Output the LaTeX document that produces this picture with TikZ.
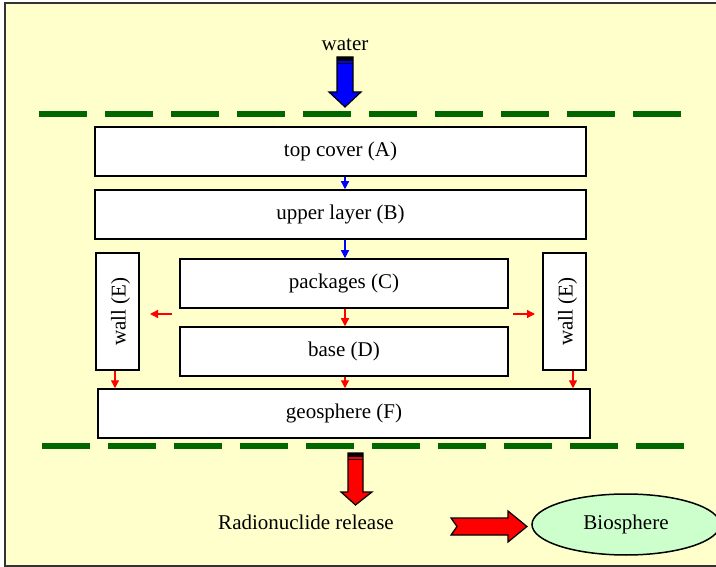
\documentclass[tikz,border=0pt]{standalone}
\usepackage{fontspec}
\setmainfont{Liberation Serif}
\usetikzlibrary{arrows.meta,shapes.geometric,calc}
\definecolor{bgyellow}{HTML}{FFFFCC}
\definecolor{dkgreen}{HTML}{006600}
\definecolor{biogreen}{HTML}{CCFFCC}
\tikzset{
  box/.style={draw=black, line width=1.5pt, fill=white, inner sep=0pt, font=\fontsize{21}{24}\selectfont},
  sepline/.style={dkgreen, line width=6pt, dash pattern=on 48pt off 18pt},
  smallblue/.style={blue, line width=1.3pt, -{Triangle[length=8pt,width=8pt]}},
  smallred/.style={red, line width=1.3pt, -{Triangle[length=8pt,width=8pt]}},
  blockarrow/.style={draw=black, line width=1.2pt, line join=miter},
  lbl/.style={font=\fontsize{21}{24}\selectfont, inner sep=0pt}
}
\begin{document}
\begin{tikzpicture}[x=1pt,y=-1pt]
\useasboundingbox (0,0) rectangle (716,567);
% background frame
\fill[bgyellow] (5,3) rectangle (730,566);
\draw[black!80, line width=2pt] (730,3) -- (5,3) -- (5,566) -- (730,566);
% dashed separator lines
\draw[sepline] (39,114) -- (690,114);
\draw[sepline] (42,446) -- (690,446);
% water
\node[lbl] (water) at (345,45) {water};
\filldraw[blue, blockarrow] (337,57) -- (353,57) -- (353,92) -- (361,92) -- (345,107) -- (329,92) -- (337,92) -- cycle;
\fill[black] (337,57) rectangle (353,61);
\draw[black, line width=1.2pt] (337,63.5) -- (353,63.5);
% boxes
\node[box, minimum width=491pt, minimum height=49pt] (A) at (340.5,151.5) {top cover (A)};
\node[box, minimum width=491pt, minimum height=49pt] (B) at (340.5,214.5) {upper layer (B)};
\node[box, minimum width=328pt, minimum height=49pt] (C) at (344,283.5) {packages (C)};
\node[box, minimum width=328pt, minimum height=49pt] (D) at (344,351.5) {base (D)};
\node[box, minimum width=43pt, minimum height=117pt] (WL) at (117.5,311.5) {};
\node[lbl, rotate=90] (WLt) at ([xshift=3pt]WL.center) {wall (E)};
\node[box, minimum width=43pt, minimum height=117pt] (WR) at (564.5,311.5) {};
\node[lbl, rotate=90] (WRt) at ([xshift=3pt]WR.center) {wall (E)};
\node[box, minimum width=492pt, minimum height=49pt] (F) at (344,413.5) {geosphere (F)};
% small arrows
\draw[smallblue] (A.south -| 345,0) -- (B.north -| 345,0);
\draw[smallblue] (B.south -| 345,0) -- (C.north -| 345,0);
\draw[smallred] (C.south -| 345,0) -- (D.north -| 345,0);
\draw[smallred] (D.south -| 345,0) -- (F.north -| 345,0);
\draw[smallred] (WL.south -| 115,0) -- (F.north -| 115,0);
\draw[smallred] (WR.south -| 573,0) -- (F.north -| 573,0);
\coordinate (lstart) at (172,314);
\coordinate (rstart) at (513,314);
\draw[smallred] (lstart) -- (150,314);
\draw[smallred] (rstart) -- (535,314);
% release arrow
\filldraw[red, blockarrow] (348,453) -- (363,453) -- (363,492) -- (372,492) -- (355.5,505) -- (341,492) -- (348,492) -- cycle;
\fill[black] (348,453) rectangle (363,457);
\draw[black, line width=1.2pt] (348,459.5) -- (363,459.5);
\node[lbl] (rel) at (306,522) {Radionuclide release};
% right arrow
\filldraw[red, blockarrow] (451,518) -- (508,518) -- (508,511) -- (527,526.5) -- (508,542) -- (508,535) -- (451,535) -- (457,526.5) -- cycle;
% biosphere
\node[draw=black, line width=1.5pt, fill=biogreen, ellipse, minimum width=188pt, minimum height=61pt, lbl] (bio) at (626,524.5) {Biosphere};
\end{tikzpicture}
\end{document}
